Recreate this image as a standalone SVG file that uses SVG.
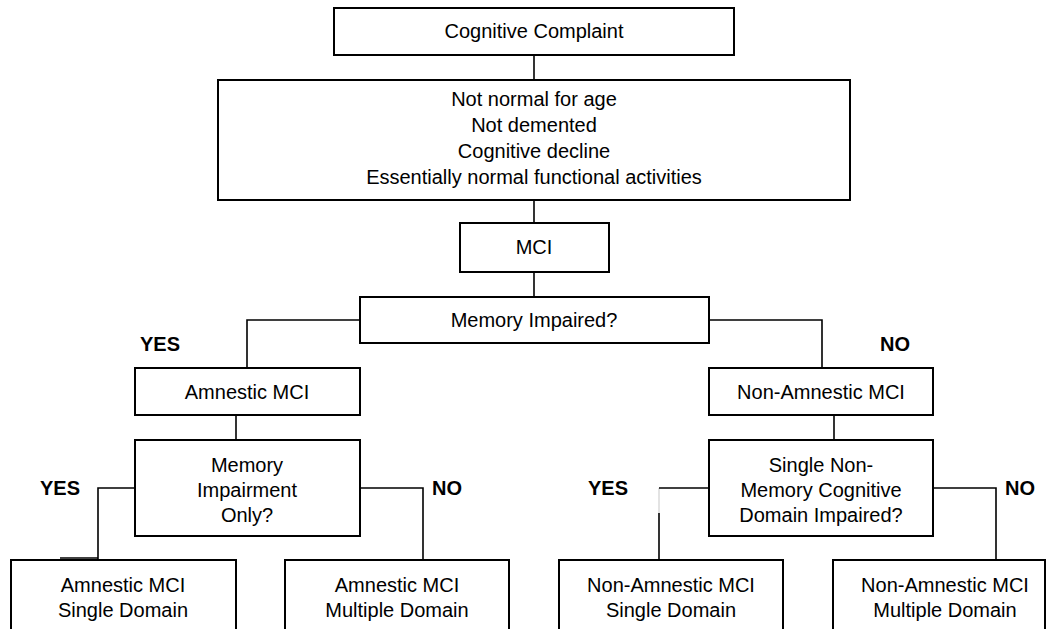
<svg xmlns="http://www.w3.org/2000/svg" width="1050" height="629" viewBox="0 0 1050 629">
<style>
.box{fill:#fff;stroke:#000;stroke-width:2}
.t{font-family:"Liberation Sans",Arial,sans-serif;font-size:20px;fill:#000;text-anchor:middle}
.lbl{font-family:"Liberation Sans",Arial,sans-serif;font-size:20px;font-weight:bold;fill:#000}
.c{fill:none;stroke:#000;stroke-width:1.6}
.faint{fill:none;stroke:#d0d0d0;stroke-width:1.2}
</style>
<rect width="1050" height="629" fill="#fff"/>
<g id="connectors">
<path class="c" d="M534,55V80"/>
<path class="c" d="M534,200V223"/>
<path class="c" d="M534,272V297"/>
<path class="c" d="M360,320H247V368"/>
<path class="c" d="M709,320H822V368"/>
<path class="c" d="M236,415V440"/>
<path class="c" d="M834,415V440"/>
<path class="c" d="M135,488H98V559"/>
<path class="c" d="M60,558H98"/>
<path class="c" d="M360,488H423V560"/>
<path class="faint" d="M659,488V513"/>
<path class="c" d="M659,488H709"/>
<path class="c" d="M659,513V560"/>
<path class="c" d="M933,488H996V560"/>
</g>
<g id="n-complaint"><rect class="box" x="334" y="8" width="400" height="47"/><text class="t" x="534" y="38">Cognitive Complaint</text></g>
<g id="n-criteria"><rect class="box" x="218" y="80" width="632" height="120"/>
<text class="t" x="534" y="106">Not normal for age</text>
<text class="t" x="534" y="132">Not demented</text>
<text class="t" x="534" y="158">Cognitive decline</text>
<text class="t" x="534" y="184">Essentially normal functional activities</text></g>
<g id="n-mci"><rect class="box" x="460" y="223" width="149" height="49"/><text class="t" x="534" y="254">MCI</text></g>
<g id="n-memory"><rect class="box" x="360" y="297" width="349" height="46"/><text class="t" x="534" y="327">Memory Impaired?</text></g>
<g id="lbl-yes1"><text class="lbl" x="140" y="351">YES</text></g>
<g id="lbl-no1"><text class="lbl" x="880" y="351">NO</text></g>
<g id="n-amnestic"><rect class="box" x="135" y="368" width="225" height="47"/><text class="t" x="247" y="399">Amnestic MCI</text></g>
<g id="n-nonamnestic"><rect class="box" x="709" y="368" width="224" height="47"/><text class="t" x="821" y="399">Non-Amnestic MCI</text></g>
<g id="n-memonly"><rect class="box" x="135" y="440" width="225" height="96"/>
<text class="t" x="247" y="472">Memory</text>
<text class="t" x="247" y="497">Impairment</text>
<text class="t" x="247" y="522">Only?</text></g>
<g id="n-single"><rect class="box" x="709" y="440" width="224" height="96"/>
<text class="t" x="821" y="472">Single Non-</text>
<text class="t" x="821" y="497">Memory Cognitive</text>
<text class="t" x="821" y="522">Domain Impaired?</text></g>
<g id="lbl-yes2"><text class="lbl" x="40" y="495">YES</text></g>
<g id="lbl-no2"><text class="lbl" x="432" y="495">NO</text></g>
<g id="lbl-yes3"><text class="lbl" x="588" y="495">YES</text></g>
<g id="lbl-no3"><text class="lbl" x="1005" y="495">NO</text></g>
<g id="n-amn-single"><rect class="box" x="11" y="560" width="225" height="90"/>
<text class="t" x="123" y="592">Amnestic MCI</text><text class="t" x="123" y="617">Single Domain</text></g>
<g id="n-amn-multi"><rect class="box" x="285" y="560" width="224" height="90"/>
<text class="t" x="397" y="592">Amnestic MCI</text><text class="t" x="397" y="617">Multiple Domain</text></g>
<g id="n-non-single"><rect class="box" x="559" y="560" width="224" height="90"/>
<text class="t" x="671" y="592">Non-Amnestic MCI</text><text class="t" x="671" y="617">Single Domain</text></g>
<g id="n-non-multi"><rect class="box" x="833" y="560" width="212" height="90"/>
<text class="t" x="945" y="592">Non-Amnestic MCI</text><text class="t" x="945" y="617">Multiple Domain</text></g>
</svg>
